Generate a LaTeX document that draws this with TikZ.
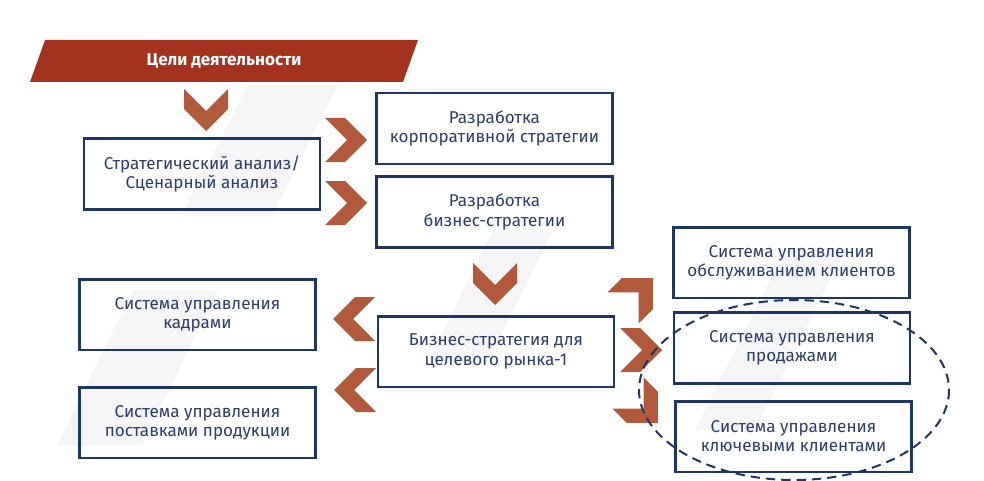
\documentclass[tikz,border=0pt]{standalone}
\usepackage{fontspec}
\setmainfont{Fira Sans}
\usepackage{tikz}
\usetikzlibrary{calc}

\definecolor{navy}{HTML}{1F3566}
\definecolor{navytext}{HTML}{2C3D6B}
\definecolor{banner}{HTML}{A3321F}
\definecolor{chevron}{HTML}{B0593B}
\definecolor{stripe}{HTML}{F5F5F5}

\tikzset{
  box/.style={draw=navy, line width=2pt, minimum width=177pt, minimum height=53pt,
    align=center, text=navytext, font=\fontsize{12.8}{14.4}\selectfont},
  chev/.pic={\fill[chevron] (-21,-22) -- (-1,-22) -- (21,0) -- (-1,22) -- (-21,22) -- (1,0) -- cycle;},
}

\begin{document}
\begin{tikzpicture}[x=0.75pt, y=-0.75pt]

\useasboundingbox (0,0) rectangle (984,481);

% faint slanted stripes in the background
\fill[stripe] (248,85) -- (338,85) -- (272,215) -- (182,215) -- cycle;
\fill[stripe] (133,290) -- (218,290) -- (142,445) -- (57,445) -- cycle;
\fill[stripe] (492,232) -- (552,232) -- (488,362) -- (428,362) -- cycle;
\fill[stripe] (785,250) -- (845,250) -- (755,430) -- (695,430) -- cycle;

% banner
\fill[banner] (45,40) -- (418,40) -- (403,82) -- (30,82) -- cycle;
\node[text=white, font=\fontsize{12.8}{14}\selectfont\bfseries] (goals) at (224,61) {Цели деятельности};

% boxes
\node[box] (strat) at (202,174) {Стратегический анализ/\\Сценарный анализ};
\node[box] (corp) at (494.5,128.5) {Разработка\\корпоративной стратегии};
\node[box] (biz) at (494.5,212) {Разработка\\бизнес-стратегии};
\node[box] (target) at (496,351.5) {Бизнес-стратегия для\\целевого рынка-1};
\node[box] (hr) at (197.5,314.5) {Система управления\\кадрами};
\node[box] (supply) at (197.5,422.5) {Система управления\\поставками продукции};
\node[box] (service) at (791.5,262.5) {Система управления\\обслуживанием клиентов};
\node[box] (sales) at (792,348) {Система управления\\продажами};
\node[box] (key) at (793.5,436.5) {Система управления\\ключевыми клиентами};

% chevrons
\pic[rotate=-90] at (206,110) {chev};
\pic at (346,140) {chev};
\pic at (346,203) {chev};
\pic[rotate=-90] at (495,284) {chev};
\pic[rotate=180] at (354,319) {chev};
\pic[rotate=180] at (355,390) {chev};
\pic[rotate=45] at (638,293) {chev};
\pic at (641,350) {chev};
\pic[rotate=-45] at (643,408) {chev};

% group of sales systems
\draw[navy, line width=1.5pt, dash pattern=on 7pt off 4.5pt] (794,390) ellipse (155 and 90);

\end{tikzpicture}
\end{document}
